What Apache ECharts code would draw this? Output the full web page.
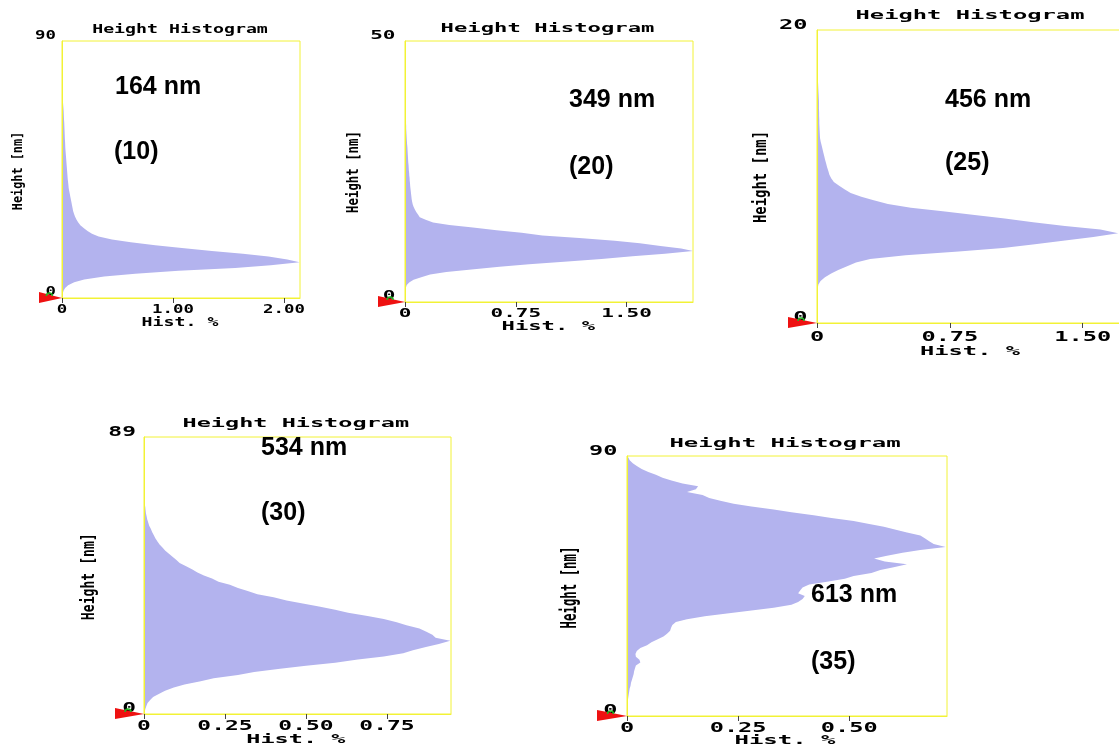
<!DOCTYPE html>
<html>
<head>
<meta charset="utf-8">
<script src="https://cdn.jsdelivr.net/npm/echarts@6/dist/echarts.min.js"></script>
<style>
  html, body { margin: 0; padding: 0; background: #fff; }
  #chart { width: 1119px; height: 748px; }
</style>
</head>
<body>
<div id="chart"></div>
<script>
// Height histograms (Hist. % per height bin) for five samples.
// Bin i of a histogram spans [i * binWidth, (i + 1) * binWidth] nm.
const hist164 = [
  0.003, 0.006, 0.014, 0.028, 0.055, 0.110, 0.200, 0.380, 0.660, 1.050,
  1.560, 1.880, 2.140, 2.030, 1.860, 1.630, 1.350, 1.080, 0.840, 0.620,
  0.450, 0.330, 0.270, 0.230, 0.195, 0.165, 0.145, 0.130, 0.117, 0.108,
  0.100, 0.095, 0.090, 0.085, 0.080, 0.075, 0.070, 0.065, 0.060, 0.058,
  0.055, 0.052, 0.050, 0.048, 0.046, 0.044, 0.042, 0.040, 0.038, 0.036,
  0.034, 0.032, 0.030, 0.029, 0.028, 0.026, 0.025, 0.024, 0.023, 0.022,
  0.021, 0.020, 0.018, 0.017, 0.016, 0.015, 0.013, 0.011, 0.009, 0.008,
  0.007, 0.007, 0.006, 0.006, 0.006, 0.005, 0.005, 0.005, 0.005, 0.004,
  0.004, 0.004, 0.004, 0.004, 0.003, 0.003, 0.003, 0.003, 0.003, 0.003
];
const hist349 = [
  0.001, 0.001, 0.001, 0.002, 0.003, 0.006, 0.012, 0.028, 0.058, 0.110,
  0.170, 0.280, 0.450, 0.640, 0.840, 1.100, 1.330, 1.540, 1.760, 1.950,
  1.870, 1.730, 1.590, 1.420, 1.180, 0.930, 0.790, 0.620, 0.460, 0.300,
  0.190, 0.140, 0.100, 0.088, 0.076, 0.066, 0.058, 0.052, 0.048, 0.045,
  0.043, 0.041, 0.039, 0.037, 0.035, 0.034, 0.032, 0.031, 0.029, 0.028,
  0.026, 0.025, 0.024, 0.022, 0.021, 0.020, 0.019, 0.018, 0.017, 0.016,
  0.014, 0.013, 0.012, 0.011, 0.010, 0.009, 0.008, 0.008, 0.007, 0.007,
  0.006, 0.006, 0.006, 0.005, 0.005, 0.005, 0.005, 0.005, 0.004, 0.004,
  0.004, 0.004, 0.004, 0.004, 0.004, 0.004, 0.003, 0.003, 0.003, 0.003,
  0.003, 0.003, 0.003, 0.003, 0.003, 0.003, 0.003, 0.003, 0.003, 0.003
];
const hist456 = [
  0, 0, 0, 0, 0, 0, 0, 0,
  0.002, 0.004, 0.008, 0.020, 0.045, 0.080, 0.120, 0.170,
  0.220, 0.300, 0.500, 0.800, 1.050, 1.230, 1.400, 1.560,
  1.700, 1.600, 1.400, 1.220, 1.060, 0.890, 0.710, 0.530,
  0.400, 0.320, 0.250, 0.190, 0.155, 0.125, 0.095, 0.080,
  0.070, 0.064, 0.057, 0.052, 0.046, 0.041, 0.036, 0.031,
  0.026, 0.021, 0.017, 0.016, 0.015, 0.014, 0.013, 0.013,
  0.012, 0.012, 0.011, 0.011, 0.011, 0.010, 0.009, 0.008,
  0.007, 0.006, 0.005, 0.004, 0.003, 0.002, 0.002, 0.002,
  0.002, 0.002, 0.002, 0.002, 0.002, 0.002, 0.001, 0.001
];
const hist534 = [
  0.002, 0.004, 0.007, 0.011, 0.019, 0.028, 0.047, 0.065, 0.092, 0.125,
  0.175, 0.215, 0.290, 0.340, 0.420, 0.500, 0.590, 0.660, 0.740, 0.800,
  0.830, 0.870, 0.910, 0.945, 0.900, 0.890, 0.870, 0.850, 0.810, 0.780,
  0.740, 0.690, 0.630, 0.590, 0.540, 0.490, 0.440, 0.400, 0.350, 0.320,
  0.290, 0.265, 0.230, 0.210, 0.185, 0.165, 0.148, 0.130, 0.110, 0.100,
  0.088, 0.077, 0.065, 0.057, 0.048, 0.041, 0.035, 0.030, 0.025, 0.021,
  0.016, 0.013, 0.010, 0.008, 0.006, 0.005, 0.004, 0.002, 0.002, 0.002,
  0.002, 0.002, 0.002, 0.002, 0.002, 0.002, 0.002, 0.002, 0.002, 0.002,
  0.002, 0.002, 0.002, 0.002, 0.002, 0.002, 0.002, 0.002, 0.002
];
const hist613 = [
  0.001, 0.001, 0.001, 0.001, 0.002, 0.002, 0.003, 0.004, 0.005, 0.006,
  0.008, 0.009, 0.011, 0.013, 0.015, 0.016, 0.018, 0.020, 0.030, 0.028,
  0.020, 0.019, 0.022, 0.030, 0.045, 0.055, 0.068, 0.082, 0.090, 0.097,
  0.099, 0.102, 0.110, 0.135, 0.175, 0.225, 0.280, 0.330, 0.370, 0.385,
  0.395, 0.400, 0.385, 0.390, 0.395, 0.410, 0.450, 0.490, 0.510, 0.550,
  0.570, 0.600, 0.630, 0.580, 0.556, 0.585, 0.620, 0.660, 0.717, 0.690,
  0.680, 0.670, 0.660, 0.630, 0.605, 0.578, 0.545, 0.510, 0.460, 0.420,
  0.370, 0.330, 0.280, 0.240, 0.210, 0.185, 0.170, 0.135, 0.155, 0.160,
  0.125, 0.100, 0.080, 0.065, 0.048, 0.033, 0.022, 0.013, 0.006, 0.003
];

const histograms = [hist164, hist349, hist456, hist534, hist613];
const binWidths = [1, 0.5, 0.25, 1, 1];          // nm
const heightMax = [90, 50, 20, 89, 90];          // nm, top of each height axis
const histMax = [2.144, 1.95, 1.75, 0.9475, 0.72];
const histTicks = [
  [0, 1, 2],
  [0, 0.75, 1.5],
  [0, 0.75, 1.5],
  [0, 0.25, 0.5, 0.75],
  [0, 0.25, 0.5]
];
const sizeLabels = ['164 nm', '349 nm', '456 nm', '534 nm', '613 nm'];
const countLabels = ['(10)', '(20)', '(25)', '(30)', '(35)'];

// Panel geometry and text sizing
const panels = [
  { grid: [62, 41, 238, 257],  title: [180, 29.8],   axisName: [180, 322.5], yName: [19, 171],     yNameScale: [0.91, 1.03],
    sx: 1.52, tickFont: 12.5, tickSx: 1.39, xLabelDy: 12, yLabelRight: 56, size: [115, 86.7], count: [114, 151.7], tri: 23 },
  { grid: [405, 41, 288, 261], title: [547.5, 28.8], axisName: [548.3, 326.7], yName: [353.5, 172], yNameScale: [0.95, 1.22],
    sx: 1.85, tickFont: 12, tickSx: 1.75, xLabelDy: 12, yLabelRight: 395.5, size: [569, 100], count: [569, 166.7], tri: 27 },
  { grid: [817, 30, 310, 293], title: [970, 16.3],   axisName: [970, 351.7], yName: [761.7, 177],  yNameScale: [1.07, 1.39],
    sx: 1.98, tickFont: 14.5, tickSx: 1.63, xLabelDy: 14, yLabelRight: 807.5, size: [945, 100], count: [945, 163], tri: 29 },
  { grid: [144, 437, 307, 277], title: [295.8, 424.2], axisName: [295.8, 740], yName: [89.7, 576.7], yNameScale: [1.01, 1.33],
    sx: 1.96, tickFont: 13.5, tickSx: 1.70, xLabelDy: 12.7, yLabelRight: 136, size: [261, 448], count: [261, 513], tri: 29 },
  { grid: [627, 456, 320, 260], title: [785, 444.2], axisName: [785, 740.8], yName: [571, 587.5], yNameScale: [0.95, 1.6],
    sx: 2.0, tickFont: 13.5, tickSx: 1.75, xLabelDy: 12, yLabelRight: 617.5, size: [811, 595], count: [811, 661.7], tri: 30 }
];

const YELLOW = '#f2f236';
const FILL = '#b3b3ee';
const MONO = '"DejaVu Sans Mono", monospace';
const ANNOT_FONT = 'bold 25px "Liberation Sans", Arial, sans-serif';
const fmtHist = v => (v === 0 ? '0' : v.toFixed(2));

const grids = [], xAxes = [], yAxes = [], series = [];

panels.forEach((P, p) => {
  const [left, top, width, height] = P.grid;

  grids.push({
    left, top, width, height,
    show: true, borderColor: YELLOW, borderWidth: 1, backgroundColor: 'transparent',
    containLabel: false, outerBoundsMode: 'none'
  });

  xAxes.push({
    gridIndex: p, type: 'value', min: 0, max: histMax[p], z: 5,
    axisLine: { show: true, lineStyle: { color: YELLOW, width: 1 } },
    axisTick: { show: true, customValues: histTicks[p], length: 5, lineStyle: { color: '#444' } },
    splitLine: { show: false },
    axisLabel: { show: false }
  });

  yAxes.push({
    gridIndex: p, type: 'value', min: 0, max: heightMax[p], z: 5,
    axisLine: { show: true, lineStyle: { color: YELLOW, width: 1 } },
    axisTick: { show: false },
    splitLine: { show: false },
    axisLabel: { show: false }
  });

  const bw = binWidths[p];
  // one item per bin: [bin start, bin end, hist %]; the outline is drawn once,
  // through every bin's centre, as a filled frequency polygon
  series.push({
    type: 'custom',
    xAxisIndex: p, yAxisIndex: p,
    clip: true,
    encode: { x: 2, y: [0, 1] },
    data: histograms[p].map((v, i) => [i * bw, (i + 1) * bw, v]),
    renderItem(params, api) {
      if (params.dataIndexInside !== 0) return null;
      const n = params.dataInsideLength;
      const pts = [api.coord([0, api.value(0, 0)])];
      for (let i = 0; i < n; i++) {
        const mid = (api.value(0, i) + api.value(1, i)) / 2;
        pts.push(api.coord([api.value(2, i), mid]));
      }
      pts.push(api.coord([0, api.value(1, n - 1)]));
      return {
        type: 'polygon',
        shape: { points: pts },
        style: { fill: FILL }
      };
    }
  });
});

const chart = echarts.init(document.getElementById('chart'), null, { renderer: 'canvas' });
chart.setOption({
  backgroundColor: '#ffffff',
  animation: false,
  grid: grids,
  xAxis: xAxes,
  yAxis: yAxes,
  series: series
});

// Text: titles, axis names, tick labels (placed from each axis' scale), notes, origin markers
const graphics = [];
const monoText = (text, x, y, font, sx, align, extra) => Object.assign({
  type: 'text', x, y, scaleX: sx, z: 10,
  style: { text, font: 'bold ' + font + 'px ' + MONO, fill: '#000', align, verticalAlign: 'middle' }
}, extra || {});

panels.forEach((P, p) => {
  const [left, top, width, height] = P.grid;
  const ox = left, oy = top + height;

  graphics.push(monoText('Height Histogram', P.title[0], P.title[1], 12, P.sx, 'center'));
  graphics.push(monoText('Hist. %', P.axisName[0], P.axisName[1], 12, P.sx, 'center'));
  graphics.push(monoText('Height [nm]', P.yName[0], P.yName[1], 13, P.yNameScale[0], 'center',
    { rotation: Math.PI / 2, scaleY: P.yNameScale[1] }));

  // tick labels along the Hist. % axis
  histTicks[p].forEach(v => {
    const px = chart.convertToPixel({ xAxisIndex: p }, v);
    graphics.push(monoText(fmtHist(v), px, oy + P.xLabelDy, P.tickFont, P.tickSx, 'center'));
  });
  // end labels of the height axis
  [0, heightMax[p]].forEach((v, k) => {
    const py = chart.convertToPixel({ yAxisIndex: p }, v);
    graphics.push(monoText(String(v), P.yLabelRight, py - (k === 0 ? 6 : 5), P.tickFont, P.tickSx, 'right'));
  });

  graphics.push({
    type: 'text', x: P.size[0], y: P.size[1], z: 10,
    style: { text: sizeLabels[p], font: ANNOT_FONT, fill: '#000', align: 'left', verticalAlign: 'middle' }
  });
  graphics.push({
    type: 'text', x: P.count[0], y: P.count[1], z: 10,
    style: { text: countLabels[p], font: ANNOT_FONT, fill: '#000', align: 'left', verticalAlign: 'middle' }
  });

  graphics.push({
    type: 'polygon', z: 10,
    shape: { points: [[ox - P.tri, oy - 6], [ox, oy], [ox - P.tri, oy + 5]] },
    style: { fill: '#ee1111' }
  });
  graphics.push({
    type: 'arc', z: 11,
    shape: { cx: ox - P.tri * 0.55, cy: oy - 2, r: 3, startAngle: Math.PI, endAngle: Math.PI * 2 },
    style: { stroke: '#22b422', fill: null, lineWidth: 1.5 }
  });
});

chart.setOption({ graphic: { elements: graphics } });
</script>
</body>
</html>
